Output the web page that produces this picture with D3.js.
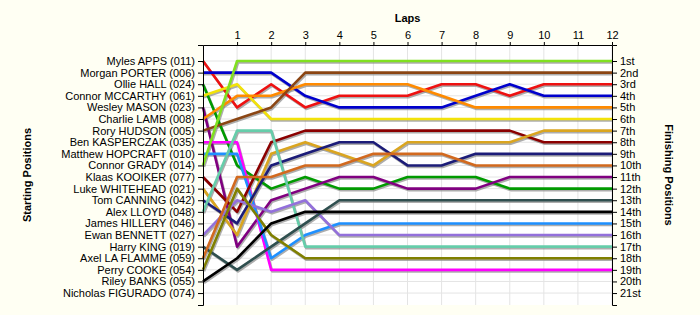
<!DOCTYPE html>
<html lang="en">
<head>
  <meta charset="utf-8" />
  <title>Lap Chart</title>
  <script src="https://d3js.org/d3.v7.min.js"></script>
  <style>
    html, body {
      margin: 0;
      padding: 0;
      background: #fffff3;
      overflow: hidden;
      font-family: "Liberation Sans", Arial, sans-serif;
    }
    .axis text { font-size: 11px; fill: #000; }
    .axis path, .axis line { stroke: #000; }
    .grid line { stroke: #e4e4e4; stroke-width: 1px; }
    .title { font-size: 11px; font-weight: bold; fill: #000; }
  </style>
</head>
<body>
<script>
/* Data: starting grid, line colours and position of each driver at the end of each lap (lap 0 = start) */
const laps = [0, 1, 2, 3, 4, 5, 6, 7, 8, 9, 10, 11, 12];

const drivers = [
  "Myles APPS (011)", "Morgan PORTER (006)", "Ollie HALL (024)", "Connor MCCARTHY (061)",
  "Wesley MASON (023)", "Charlie LAMB (008)", "Rory HUDSON (005)", "Ben KASPERCZAK (035)",
  "Matthew HOPCRAFT (010)", "Connor GRADY (014)", "Klaas KOOIKER (077)", "Luke WHITEHEAD (021)",
  "Tom CANNING (042)", "Alex LLOYD (048)", "James HILLERY (046)", "Ewan BENNETT (027)",
  "Harry KING (019)", "Axel LA FLAMME (059)", "Perry COOKE (054)", "Riley BANKS (055)",
  "Nicholas FIGURADO (074)"
];

const lineColors = [
  "#ee1111", "#0000cc", "#009a00", "#f2e20a",
  "#800080", "#ff8a00", "#8b4513", "#ff00ff",
  "#1e90ff", "#80e020", "#8b0000", "#daa520",
  "#1c1c78", "#66cdaa", null, "#9370db",
  "#2f4f4f", "#d2691e", "#808000", "#000000",
  null
];

// null = no laps recorded
const racePositions = [
  [1, 5, 3, 5, 4, 4, 4, 3, 3, 4, 3, 3, 3],
  [2, 2, 2, 4, 5, 5, 5, 5, 4, 3, 4, 4, 4],
  [3, 10, 12, 11, 12, 12, 11, 11, 11, 12, 12, 12, 12],
  [4, 3, 6, 6, 6, 6, 6, 6, 6, 6, 6, 6, 6],
  [5, 17, 13, 12, 11, 11, 12, 12, 12, 11, 11, 11, 11],
  [6, 4, 4, 3, 3, 3, 3, 4, 5, 5, 5, 5, 5],
  [7, 6, 5, 2, 2, 2, 2, 2, 2, 2, 2, 2, 2],
  [8, 8, 19, 19, 19, 19, 19, 19, 19, 19, 19, 19, 19],
  [9, 9, 18, 16, 15, 15, 15, 15, 15, 15, 15, 15, 15],
  [10, 1, 1, 1, 1, 1, 1, 1, 1, 1, 1, 1, 1],
  [11, 14, 8, 7, 7, 7, 7, 7, 7, 7, 8, 8, 8],
  [12, 16, 9, 8, 9, 10, 8, 8, 8, 8, 7, 7, 7],
  [13, 15, 10, 9, 8, 8, 10, 10, 9, 9, 9, 9, 9],
  [14, 7, 7, 17, 17, 17, 17, 17, 17, 17, 17, 17, 17],
  null,
  [16, 13, 14, 13, 16, 16, 16, 16, 16, 16, 16, 16, 16],
  [17, 19, 17, 15, 13, 13, 13, 13, 13, 13, 13, 13, 13],
  [18, 11, 11, 10, 10, 9, 9, 9, 10, 10, 10, 10, 10],
  [19, 12, 16, 18, 18, 18, 18, 18, 18, 18, 18, 18, 18],
  [20, 18, 15, 14, 14, 14, 14, 14, 14, 14, 14, 14, 14],
  null
];

const places = d3.range(1, drivers.length + 1);
const ordinal = n => n + (n % 10 === 1 && n !== 11 ? "st" : n % 10 === 2 && n !== 12 ? "nd" : n % 10 === 3 && n !== 13 ? "rd" : "th");

/* Layout */
const width = 700, height = 315;
const plotLeft = 203, plotRight = 612, plotTop = 45, plotBottom = 305;

const svg = d3.select("body").append("svg")
  .attr("width", width)
  .attr("height", height);

const x = d3.scaleLinear().domain([0, 12]).range([plotLeft, plotRight]);
// position 1 sits a little below the top edge, 21 a little above the bottom
const y = d3.scaleLinear().domain([-0.38, 22.03]).range([plotTop, plotBottom]);

// plot background
svg.append("rect")
  .attr("x", plotLeft).attr("y", plotTop)
  .attr("width", plotRight - plotLeft).attr("height", plotBottom - plotTop)
  .attr("fill", "#fff");

// grid
const grid = svg.append("g").attr("class", "grid");
grid.selectAll(".v").data(laps.slice(1)).enter().append("line")
  .attr("x1", d => x(d)).attr("x2", d => x(d))
  .attr("y1", plotTop).attr("y2", plotBottom);
grid.selectAll(".h").data(places).enter().append("line")
  .attr("x1", plotLeft).attr("x2", plotRight)
  .attr("y1", d => y(d)).attr("y2", d => y(d));

/* Lines with a soft drop shadow */
const line = d3.line()
  .x((d, i) => x(laps[i]))
  .y(d => y(d));

const series = racePositions
  .map((p, i) => ({ pos: p, color: lineColors[i] }))
  .filter(d => d.pos);

svg.append("g").selectAll("path").data(series).enter().append("path")
  .attr("d", d => line(d.pos))
  .attr("transform", "translate(1,1.5)")
  .attr("fill", "none")
  .attr("stroke", "#8a8a8a")
  .attr("stroke-opacity", 0.7)
  .attr("stroke-width", 2.6)
  .attr("stroke-linejoin", "round");

svg.append("g").selectAll("path").data(series).enter().append("path")
  .attr("d", d => line(d.pos))
  .attr("fill", "none")
  .attr("stroke", d => d.color)
  .attr("stroke-width", 2.6)
  .attr("stroke-linejoin", "round");

/* Axes */
svg.append("g")
  .attr("class", "axis")
  .attr("transform", `translate(${plotLeft},0)`)
  .call(d3.axisLeft(y).tickValues(places).tickSize(5).tickSizeOuter(5)
    .tickFormat(d => drivers[d - 1]));

svg.append("g")
  .attr("class", "axis")
  .attr("transform", `translate(${plotRight},0)`)
  .call(d3.axisRight(y).tickValues(places).tickSize(5).tickSizeOuter(5)
    .tickFormat(ordinal));

svg.append("g")
  .attr("class", "axis")
  .attr("transform", `translate(0,${plotTop})`)
  .call(d3.axisTop(x).tickValues(laps.slice(1)).tickSize(3).tickSizeOuter(0)
    .tickFormat(d3.format("d")));

svg.selectAll(".axis text").style("font-family", "'Liberation Sans', Arial, sans-serif");

/* Titles */
svg.append("text").attr("class", "title")
  .attr("x", (plotLeft + plotRight) / 2).attr("y", 22)
  .attr("text-anchor", "middle")
  .text("Laps");

svg.append("text").attr("class", "title")
  .attr("transform", `translate(31,${(plotTop + plotBottom) / 2}) rotate(-90)`)
  .attr("text-anchor", "middle")
  .text("Starting Positions");

svg.append("text").attr("class", "title")
  .attr("transform", `translate(665,${(plotTop + plotBottom) / 2}) rotate(90)`)
  .attr("text-anchor", "middle")
  .text("Finishing Positions");
</script>
</body>
</html>
